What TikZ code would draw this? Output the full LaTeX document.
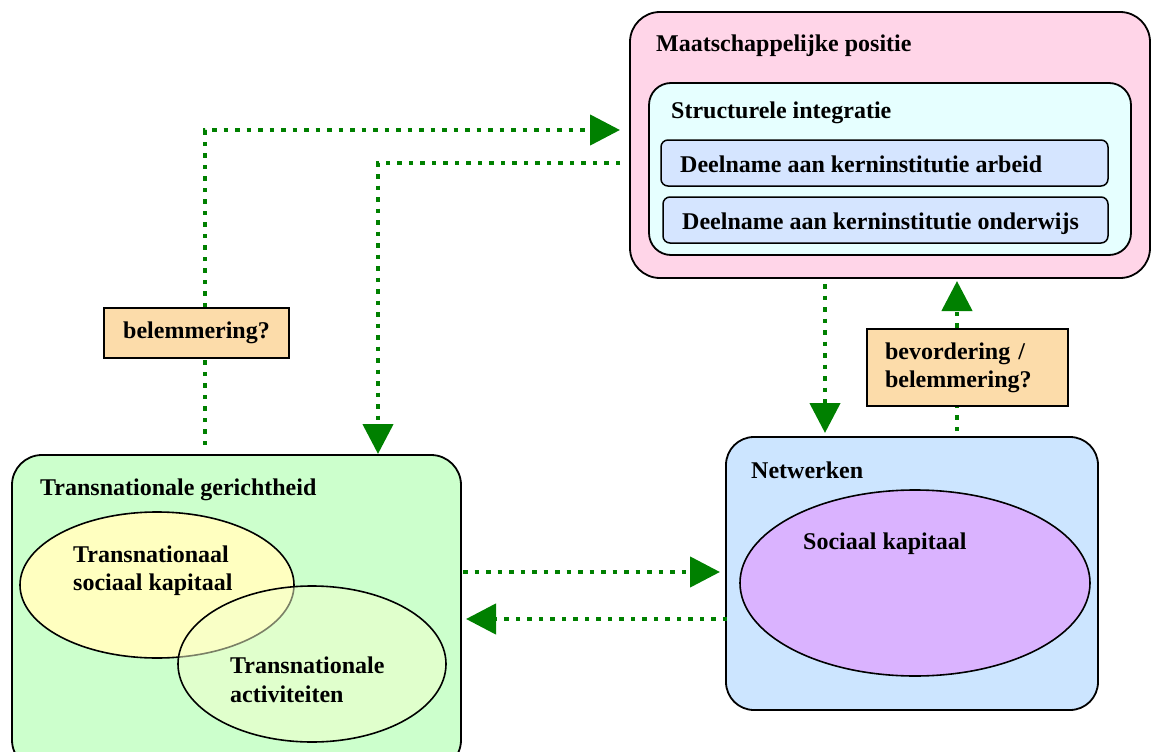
\documentclass[tikz,border=0pt]{standalone}
\usepackage{fontspec}
\setmainfont{Liberation Serif}
\usetikzlibrary{arrows.meta,shapes.geometric}
\definecolor{pinkbg}{HTML}{FFD5E8}
\definecolor{cyanbg}{HTML}{E6FFFF}
\definecolor{instbg}{HTML}{D5E5FF}
\definecolor{greenbg}{HTML}{CCFFCC}
\definecolor{bluebg}{HTML}{CCE5FF}
\definecolor{purplebg}{HTML}{DAB3FF}
\definecolor{yellowbg}{HTML}{FFFFC0}
\definecolor{actbg}{HTML}{F4FFCC}
\definecolor{peach}{HTML}{FCDCAA}
\definecolor{flowgreen}{HTML}{008000}
\begin{document}
\begin{tikzpicture}[x=1pt,y=-1pt,
  box/.style={draw=black, line width=1.8pt, inner sep=0pt},
  txt/.style={anchor=base west, inner sep=0pt, font=\fontsize{24}{28}\selectfont\bfseries},
  flow/.style={draw=flowgreen, line width=4.5pt, dash pattern=on 4.5pt off 7pt, -{Triangle[length=30pt,width=30pt]}},
  lab/.style={draw=black, line width=1.5pt, fill=peach, font=\fontsize{24}{28}\selectfont\bfseries},
  ell/.style={ellipse, draw=black, line width=1.6pt, inner sep=0pt}]
\clip (0,0) rectangle (1152,752);
\fill[white] (0,0) rectangle (1152,752);

% Maatschappelijke positie
\node[box, rounded corners=30pt, fill=pinkbg, minimum width=520pt, minimum height=266pt] (pos) at (890,145) {};
\node[box, rounded corners=22pt, fill=cyanbg, minimum width=482pt, minimum height=172pt] (struct) at (890,169) {};
\node[box, line width=1.5pt, rounded corners=7pt, fill=instbg, minimum width=447pt, minimum height=46pt] (arbeid) at (884.5,163) {};
\node[box, line width=1.5pt, rounded corners=7pt, fill=instbg, minimum width=445pt, minimum height=46pt] (onderwijs) at (885.5,220) {};
\node[txt] (tpos) at (656,52) {Maatschappelijke positie};
\node[txt] (tstruct) at (671,118) {Structurele integratie};
\node[txt] (tarbeid) at (680,172) {Deelname aan kerninstitutie arbeid};
\node[txt] (tonderwijs) at (682,229) {Deelname aan kerninstitutie onderwijs};

% Transnationale gerichtheid
\node[box, rounded corners=30pt, fill=greenbg, minimum width=449pt, minimum height=315pt] (trans) at (236.5,612.5) {};
\node[ell, fill=yellowbg, minimum width=274pt, minimum height=146pt] (tsk) at (157,585) {};
\node[ell, fill=actbg, fill opacity=0.5, draw opacity=1, minimum width=268pt, minimum height=156pt] (tact) at (312,664) {};
\node[txt] (ttrans) at (40,495) {Transnationale gerichtheid};
\node[txt] (ttsk1) at (73,562) {Transnationaal};
\node[txt] (ttsk2) at (73,590) {sociaal kapitaal};
\node[txt] (ttact1) at (230,673) {Transnationale};
\node[txt] (ttact2) at (230,702) {activiteiten};

% Netwerken
\node[box, rounded corners=28pt, fill=bluebg, minimum width=372pt, minimum height=273pt] (netw) at (912,573.5) {};
\node[ell, fill=purplebg, minimum width=350pt, minimum height=186pt] (sk) at (915,583) {};
\node[txt] (tnetw) at (751,478) {Netwerken};
\node[txt] (tsk) at (803,549) {Sociaal kapitaal};

% connectors
\coordinate (a1s) at (205,445);
\coordinate (a1t) at (620,130);
\draw[flow] (a1s) |- (a1t);
\coordinate (a2s) at (620,163);
\coordinate (a2t) at (378,454);
\draw[flow] (a2s) -| (a2t);
\coordinate (a3s) at (825,284);
\coordinate (a3t) at (825,433);
\draw[flow] (a3s) -- (a3t);
\coordinate (a4s) at (957,431);
\coordinate (a4t) at (957,281);
\draw[flow] (a4s) -- (a4t);
\coordinate (a5s) at (463,572);
\coordinate (a5t) at (720,572);
\draw[flow] (a5s) -- (a5t);
\coordinate (a6s) at (727,619);
\coordinate (a6t) at (466,619);
\draw[flow] (a6s) -- (a6t);

% labels
\node[lab, minimum width=185pt, minimum height=50pt, inner sep=0pt] (lab1) at (196.5,333) {belemmering?};
\node[lab, minimum height=77pt, text width=165pt, inner xsep=18pt, inner ysep=0pt, align=left] (lab2) at (967.5,367.5) {bevordering /\\belemmering?};
\end{tikzpicture}
\end{document}
